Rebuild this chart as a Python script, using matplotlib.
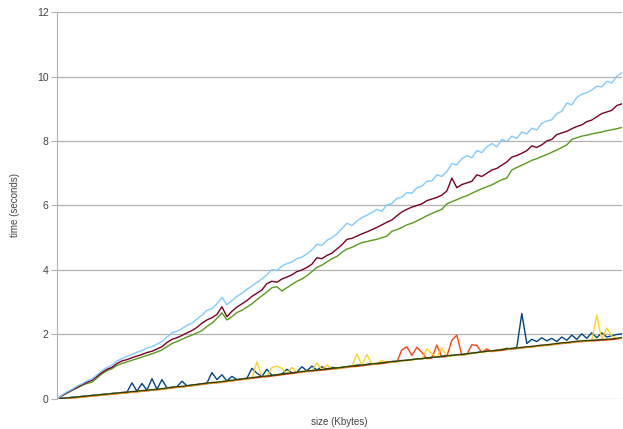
import numpy as np
import matplotlib.pyplot as plt

# upper group (slow runs)
light_blue = [0.00, 0.12, 0.22, 0.30, 0.40, 0.47, 0.56, 0.62, 0.75, 0.88,
              0.98, 1.05, 1.18, 1.25, 1.32, 1.38, 1.45, 1.50, 1.58, 1.62,
              1.70, 1.78, 1.92, 2.05, 2.10, 2.18, 2.28, 2.35, 2.48, 2.60,
              2.75, 2.80, 2.95, 3.15, 2.92, 3.05, 3.18, 3.28, 3.40, 3.50,
              3.62, 3.72, 3.85, 4.02, 3.98, 4.12, 4.20, 4.25, 4.35, 4.40,
              4.50, 4.62, 4.80, 4.76, 4.92, 5.00, 5.12, 5.28, 5.45, 5.38,
              5.52, 5.62, 5.70, 5.78, 5.88, 5.82, 6.02, 6.06, 6.22, 6.26,
              6.40, 6.38, 6.55, 6.60, 6.75, 6.76, 6.95, 6.90, 7.05, 7.30,
              7.26, 7.45, 7.55, 7.48, 7.70, 7.64, 7.82, 7.92, 7.82, 8.05,
              7.98, 8.15, 8.08, 8.28, 8.22, 8.40, 8.34, 8.55, 8.62, 8.66,
              8.85, 8.92, 9.18, 9.12, 9.35, 9.45, 9.50, 9.58, 9.70, 9.68,
              9.85, 9.80, 10.00, 10.12]
maroon = [0.00, 0.10, 0.20, 0.28, 0.36, 0.44, 0.52, 0.58, 0.70, 0.82,
          0.92, 0.98, 1.10, 1.18, 1.22, 1.28, 1.33, 1.38, 1.44, 1.48,
          1.55, 1.62, 1.75, 1.85, 1.90, 1.97, 2.05, 2.12, 2.22, 2.35,
          2.45, 2.52, 2.62, 2.86, 2.55, 2.72, 2.85, 2.95, 3.05, 3.18,
          3.28, 3.38, 3.58, 3.65, 3.62, 3.72, 3.78, 3.85, 3.95, 4.00,
          4.08, 4.18, 4.38, 4.35, 4.45, 4.52, 4.65, 4.78, 4.95, 4.98,
          5.05, 5.12, 5.18, 5.25, 5.32, 5.40, 5.48, 5.55, 5.68, 5.80,
          5.88, 5.95, 6.00, 6.05, 6.15, 6.20, 6.25, 6.32, 6.45, 6.85,
          6.55, 6.65, 6.70, 6.75, 6.95, 6.90, 7.00, 7.10, 7.15, 7.25,
          7.35, 7.50, 7.55, 7.62, 7.70, 7.85, 7.80, 7.88, 8.00, 8.05,
          8.20, 8.25, 8.30, 8.38, 8.45, 8.50, 8.60, 8.65, 8.75, 8.85,
          8.90, 8.95, 9.10, 9.15]
green = [0.00, 0.10, 0.18, 0.26, 0.34, 0.42, 0.48, 0.52, 0.65, 0.78,
         0.88, 0.94, 1.04, 1.10, 1.15, 1.20, 1.25, 1.30, 1.35, 1.40,
         1.46, 1.52, 1.62, 1.72, 1.78, 1.85, 1.92, 1.98, 2.05, 2.12,
         2.25, 2.35, 2.50, 2.67, 2.45, 2.55, 2.68, 2.75, 2.85, 2.95,
         3.08, 3.20, 3.32, 3.45, 3.48, 3.35, 3.45, 3.55, 3.65, 3.72,
         3.82, 3.95, 4.08, 4.15, 4.25, 4.35, 4.42, 4.55, 4.65, 4.70,
         4.78, 4.85, 4.88, 4.92, 4.95, 5.00, 5.05, 5.20, 5.25, 5.32,
         5.40, 5.45, 5.52, 5.60, 5.68, 5.75, 5.82, 5.88, 6.05, 6.12,
         6.18, 6.25, 6.30, 6.38, 6.45, 6.52, 6.58, 6.64, 6.72, 6.80,
         6.85, 7.10, 7.18, 7.25, 7.32, 7.40, 7.45, 7.52, 7.58, 7.65,
         7.72, 7.80, 7.88, 8.05, 8.10, 8.15, 8.18, 8.22, 8.25, 8.28,
         8.32, 8.35, 8.38, 8.42]

# lower group (fast runs)
dark_blue = [0.00, 0.02, 0.03, 0.05, 0.06, 0.08, 0.09, 0.11, 0.12, 0.14,
             0.15, 0.17, 0.18, 0.20, 0.21, 0.50, 0.24, 0.48, 0.27, 0.63,
             0.30, 0.60, 0.34, 0.36, 0.38, 0.55, 0.41, 0.43, 0.45, 0.47,
             0.49, 0.82, 0.60, 0.75, 0.56, 0.70, 0.60, 0.62, 0.64, 0.95,
             0.80, 0.70, 0.92, 0.73, 0.75, 0.77, 0.92, 0.81, 0.83, 1.00,
             0.87, 1.02, 0.90, 1.00, 0.93, 0.98, 0.96, 0.98, 1.00, 1.02,
             1.05, 1.05, 1.07, 1.09, 1.10, 1.12, 1.14, 1.16, 1.17, 1.19,
             1.20, 1.22, 1.24, 1.25, 1.27, 1.29, 1.30, 1.32, 1.34, 1.35,
             1.37, 1.38, 1.40, 1.42, 1.44, 1.46, 1.48, 1.49, 1.51, 1.53,
             1.57, 1.55, 1.60, 2.65, 1.72, 1.85, 1.78, 1.90, 1.80, 1.88,
             1.78, 1.92, 1.82, 1.98, 1.85, 2.02, 1.88, 2.05, 1.90, 2.05,
             1.92, 1.96, 2.00, 2.02]
orange_red = [0.00, 0.01, 0.01, 0.03, 0.04, 0.06, 0.07, 0.09, 0.10, 0.12,
              0.13, 0.15, 0.16, 0.18, 0.19, 0.21, 0.22, 0.24, 0.25, 0.27,
              0.28, 0.30, 0.32, 0.34, 0.36, 0.37, 0.39, 0.41, 0.43, 0.45,
              0.47, 0.49, 0.50, 0.52, 0.54, 0.56, 0.58, 0.60, 0.62, 0.64,
              0.66, 0.68, 0.69, 0.71, 0.73, 0.75, 0.77, 0.79, 0.81, 0.83,
              0.85, 0.86, 0.88, 0.89, 0.91, 0.93, 0.94, 0.96, 0.98, 1.00,
              1.01, 1.03, 1.05, 1.07, 1.08, 1.10, 1.12, 1.14, 1.15, 1.52,
              1.62, 1.35, 1.60, 1.45, 1.25, 1.27, 1.67, 1.30, 1.32, 1.82,
              1.98, 1.36, 1.38, 1.68, 1.66, 1.44, 1.55, 1.47, 1.49, 1.51,
              1.53, 1.55, 1.56, 1.58, 1.60, 1.61, 1.63, 1.65, 1.66, 1.68,
              1.70, 1.72, 1.73, 1.75, 1.77, 1.78, 1.79, 1.80, 1.81, 1.82,
              1.83, 1.84, 1.86, 1.88]
yellow = [0.00, 0.01, 0.02, 0.04, 0.05, 0.07, 0.08, 0.10, 0.11, 0.13,
          0.14, 0.16, 0.17, 0.19, 0.20, 0.22, 0.23, 0.25, 0.26, 0.28,
          0.29, 0.31, 0.33, 0.35, 0.37, 0.38, 0.40, 0.42, 0.44, 0.46,
          0.48, 0.50, 0.51, 0.53, 0.55, 0.57, 0.59, 0.61, 0.63, 0.65,
          1.15, 0.69, 0.70, 0.98, 1.02, 0.95, 0.78, 0.98, 0.82, 0.84,
          0.86, 0.87, 1.12, 0.90, 1.05, 0.94, 0.95, 0.97, 0.99, 1.01,
          1.40, 1.04, 1.38, 1.08, 1.09, 1.20, 1.13, 1.15, 1.16, 1.18,
          1.19, 1.21, 1.23, 1.24, 1.55, 1.40, 1.29, 1.58, 1.33, 1.34,
          1.36, 1.37, 1.39, 1.41, 1.43, 1.45, 1.47, 1.48, 1.50, 1.55,
          1.54, 1.56, 1.57, 1.59, 1.61, 1.62, 1.64, 1.66, 1.67, 1.69,
          1.71, 1.73, 1.74, 1.76, 1.78, 1.79, 1.80, 1.81, 2.60, 1.83,
          2.20, 1.95, 1.87, 1.89]
olive = [0.00, 0.02, 0.03, 0.05, 0.06, 0.08, 0.09, 0.11, 0.12, 0.14,
         0.15, 0.17, 0.18, 0.20, 0.21, 0.23, 0.24, 0.26, 0.27, 0.29,
         0.30, 0.32, 0.34, 0.36, 0.38, 0.39, 0.41, 0.43, 0.45, 0.47,
         0.49, 0.51, 0.52, 0.54, 0.56, 0.58, 0.60, 0.62, 0.64, 0.66,
         0.68, 0.70, 0.71, 0.73, 0.75, 0.77, 0.79, 0.81, 0.83, 0.85,
         0.87, 0.88, 0.90, 0.91, 0.93, 0.95, 0.96, 0.98, 1.00, 1.02,
         1.03, 1.05, 1.07, 1.09, 1.10, 1.12, 1.14, 1.16, 1.17, 1.19,
         1.20, 1.22, 1.24, 1.25, 1.27, 1.29, 1.30, 1.32, 1.34, 1.35,
         1.37, 1.38, 1.40, 1.42, 1.44, 1.46, 1.48, 1.49, 1.51, 1.53,
         1.55, 1.57, 1.58, 1.60, 1.62, 1.63, 1.65, 1.67, 1.68, 1.70,
         1.72, 1.74, 1.75, 1.77, 1.79, 1.80, 1.81, 1.82, 1.83, 1.84,
         1.85, 1.86, 1.88, 1.90]

plt.rcParams['font.family'] = ['Liberation Sans', 'DejaVu Sans']

fig = plt.figure(figsize=(6.23, 4.29), dpi=100)
ax = fig.add_axes([0.0915, 0.070, 0.9065, 0.902])

x = np.arange(len(olive))
series = [
    (dark_blue, '#004586'),
    (orange_red, '#ff420e'),
    (yellow, '#ffd320'),
    (olive, '#314004'),
    (green, '#579d1c'),
    (maroon, '#7e0021'),
    (light_blue, '#83caff'),
]
for vals, col in series:
    ax.plot(x, vals, color=col, linewidth=1.0)

ax.set_xlim(0, len(olive) - 1)
ax.set_ylim(0, 12)
ax.set_yticks(range(0, 13, 2))
ax.set_xticks([])
ax.yaxis.grid(True, color='#b3b3b3', linewidth=0.9)
ax.set_axisbelow(True)
for s in ['top', 'right', 'bottom']:
    ax.spines[s].set_visible(False)
ax.spines['left'].set_color('#b3b3b3')
ax.tick_params(axis='y', length=4, color='#b3b3b3', labelsize=7.5,
               labelcolor='#444444', pad=2)

ax.set_ylabel('time (seconds)', fontsize=7, color='#444444', labelpad=12)
ax.set_xlabel('size (Kbytes)', fontsize=7, color='#444444', labelpad=13)

fig.savefig('out.png', dpi=100)
